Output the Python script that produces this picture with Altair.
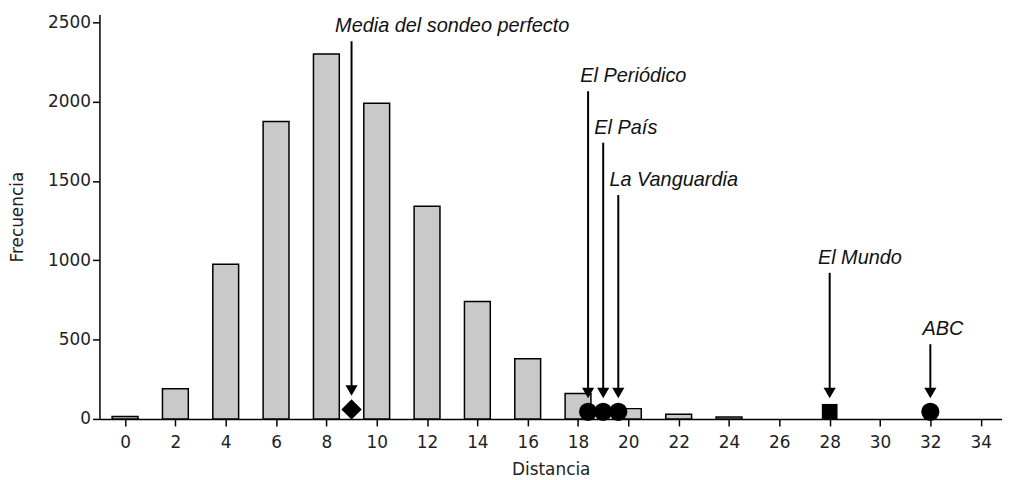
import altair as alt
import pandas as pd

# histogram of distances
distancia = [0, 2, 4, 6, 8, 10, 12, 14, 16, 18, 20, 22, 24]
frecuencia = [15, 190, 975, 1875, 2300, 1990, 1340, 740, 380, 160, 65, 30, 12]

# newspapers / reference points
etiquetas = ["Media del sondeo perfecto", "El Periódico", "El País",
             "La Vanguardia", "El Mundo", "ABC"]
dist_medio = [9.0, 18.4, 19.0, 19.6, 28.0, 32.0]
marca_y = [60, 45, 45, 45, 45, 45]
forma = ["diamond", "circle", "circle", "circle", "square", "circle"]
etiqueta_x = [13.0, 20.2, 19.9, 21.8, 29.2, 32.5]
etiqueta_y = [2475, 2160, 1835, 1505, 1015, 565]

bars_df = pd.DataFrame({"Distancia": distancia, "Frecuencia": frecuencia})
pts_df = pd.DataFrame({
    "medio": etiquetas, "x": dist_medio, "y": marca_y, "forma": forma,
    "lx": etiqueta_x, "ly": etiqueta_y,
})

x_scale = alt.Scale(domain=[-0.82, 34.65], nice=False, zero=False)
y_scale = alt.Scale(domain=[0, 2550], nice=False)

bars = alt.Chart(bars_df).mark_bar(
    size=26, fill="#c9c9c9", stroke="black", strokeWidth=1.5
).encode(
    x=alt.X("Distancia:Q", scale=x_scale,
            axis=alt.Axis(values=list(range(0, 35, 2)), title="Distancia")),
    y=alt.Y("Frecuencia:Q", scale=y_scale,
            axis=alt.Axis(values=[0, 500, 1000, 1500, 2000, 2500], format="d",
                          title="Frecuencia")),
)

base = alt.Chart(pts_df)

arrows = base.mark_rule(color="black", strokeWidth=2, yOffset=15, y2Offset=-22).encode(
    x="x:Q", y="ly:Q", y2="y:Q"
)

heads = base.mark_point(shape="triangle-down", filled=True, color="black",
                        size=150, opacity=1, yOffset=-19).encode(
    x="x:Q", y="y:Q"
)

markers = base.mark_point(filled=True, color="black", opacity=1).encode(
    x="x:Q", y="y:Q",
    shape=alt.Shape("medio:N", legend=None,
                    scale=alt.Scale(domain=etiquetas, range=forma)),
    size=alt.Size("forma:N", legend=None,
                  scale=alt.Scale(domain=["diamond", "circle", "square"],
                                  range=[420, 250, 220])),
)

labels = base.mark_text(font="Liberation Sans", fontStyle="italic", fontSize=20,
                        color="#111", baseline="middle", align="center").encode(
    x="lx:Q", y="ly:Q", text="medio:N"
)

chart = alt.layer(bars, arrows, heads, markers, labels).properties(
    width=908, height=407,
    autosize=alt.AutoSizeParams(type="none"),
    padding={"left": 92, "top": 5, "right": 0, "bottom": 58},
    background="white",
).configure_view(stroke=None).configure_axis(
    grid=False, domainColor="black", domainWidth=1.5, tickColor="black",
    tickWidth=1.5, tickSize=7, labelFont="DejaVu Sans", labelFontSize=17,
    labelColor="#222", titleFont="DejaVu Sans", titleFontSize=17,
    titleFontWeight="normal", titleColor="#222",
).configure_axisX(labelPadding=9, titlePadding=11, labelFlush=False
).configure_axisY(labelPadding=2, titlePadding=21)

chart.save("out.html", embed_options={"renderer": "svg", "actions": False})
